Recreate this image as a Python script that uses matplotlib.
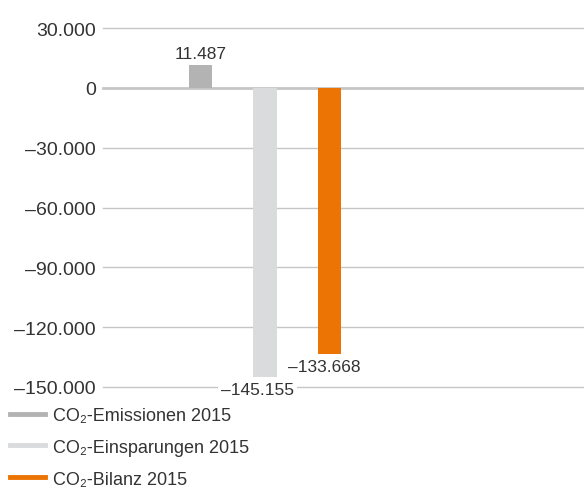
import matplotlib.pyplot as plt
from matplotlib.lines import Line2D

plt.rcParams['font.family'] = ['Liberation Sans', 'DejaVu Sans']

# CO2-Werte 2015 in Tonnen
labels = ["CO₂-Emissionen 2015", "CO₂-Einsparungen 2015", "CO₂-Bilanz 2015"]
values = [11487, -145155, -133668]
colors = ["#b3b3b3", "#dadbdc", "#ec7404"]
yticks = [30000, 0, -30000, -60000, -90000, -120000, -150000]


def fmt(v):
    s = f"{abs(v):,}".replace(",", ".")
    return ("\u2013" + s) if v < 0 else s


fig = plt.figure(figsize=(5.84, 4.89), dpi=100)
W, H = 584, 489
ax = fig.add_axes([103 / W, 1 - 388 / H, (584 - 103) / W, (388 - 29) / H])

x = [0, 1, 2]
ax.bar(x, values, width=0.36, color=colors, zorder=3)

ax.set_xlim(-1.512, 5.946)
ax.set_ylim(-150000, 30000)
ax.set_yticks(yticks)
ax.set_yticklabels([fmt(t) for t in yticks], fontsize=14, color="#333333")
ax.tick_params(axis="y", length=0, pad=5)
ax.set_xticks([])
for s in ax.spines.values():
    s.set_visible(False)

for t in yticks:
    ax.axhline(t, color="#c6c6c6", lw=1.0 if t != 0 else 2.0, zorder=1, clip_on=False)

# Wertebeschriftungen
ax.text(x[0], values[0] + 2200, fmt(values[0]), ha="center", va="bottom",
        fontsize=12.5, color="#333333", zorder=4)
ax.text(x[1] - 0.12, values[1] - 2400, fmt(values[1]), ha="center", va="top",
        fontsize=12.5, color="#333333", zorder=4,
        bbox=dict(facecolor="white", edgecolor="none", pad=2))
ax.text(x[2] - 0.08, values[2] - 2400, fmt(values[2]), ha="center", va="top",
        fontsize=12.5, color="#333333", zorder=4)

handles = [Line2D([], [], color=c, lw=3.5) for c in colors]
fig.legend(handles, labels, loc="upper left", bbox_to_anchor=(10 / W, 1 - 408 / H),
           frameon=False, fontsize=13, handlelength=1.95, handletextpad=0.45,
           labelspacing=0.82, labelcolor="#333333", borderaxespad=0, borderpad=0)

fig.savefig("out.png", dpi=100)
